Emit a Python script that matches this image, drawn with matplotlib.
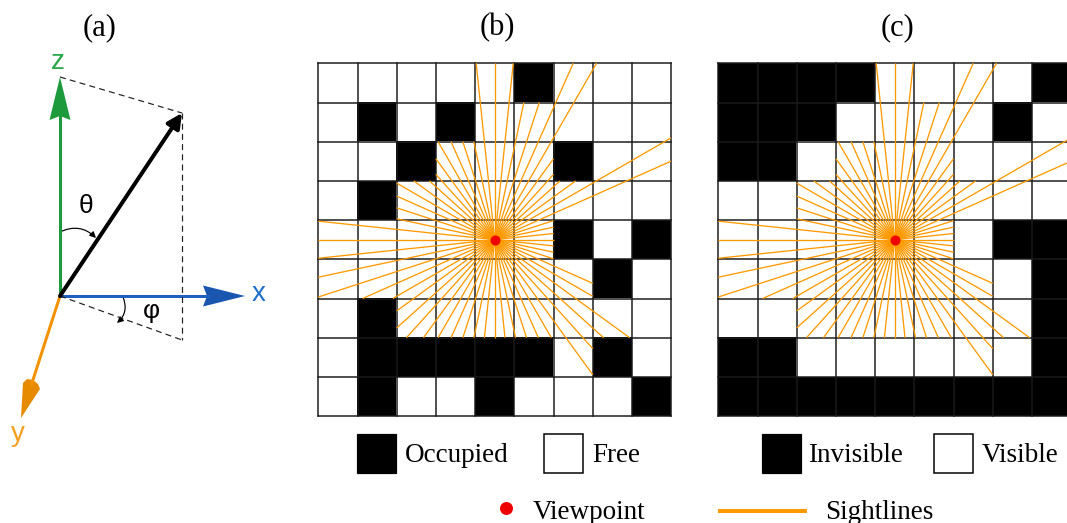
import numpy as np
import matplotlib
matplotlib.use("Agg")
import matplotlib.pyplot as plt
from matplotlib.colors import ListedColormap
from matplotlib.patches import Rectangle, Polygon, FancyArrowPatch

# ---------------- data ----------------
# (b) occupancy grid, rows top->bottom, 1 = occupied
occupancy = [
    [0, 0, 0, 0, 0, 1, 0, 0, 0],
    [0, 1, 0, 1, 0, 0, 0, 0, 0],
    [0, 0, 1, 0, 0, 0, 1, 0, 0],
    [0, 1, 0, 0, 0, 0, 0, 0, 0],
    [0, 0, 0, 0, 0, 0, 1, 0, 1],
    [0, 0, 0, 0, 0, 0, 0, 1, 0],
    [0, 1, 0, 0, 0, 0, 0, 0, 0],
    [0, 1, 1, 1, 1, 1, 0, 1, 0],
    [0, 1, 0, 0, 1, 0, 0, 0, 1],
]
# (c) visibility grid, rows top->bottom, 1 = invisible
invisibility = [
    [1, 1, 1, 1, 0, 0, 0, 0, 1],
    [1, 1, 1, 0, 0, 0, 0, 1, 0],
    [1, 1, 0, 0, 0, 0, 0, 0, 0],
    [0, 0, 0, 0, 0, 0, 0, 0, 0],
    [0, 0, 0, 0, 0, 0, 0, 1, 1],
    [0, 0, 0, 0, 0, 0, 0, 0, 1],
    [0, 0, 0, 0, 0, 0, 0, 0, 1],
    [1, 1, 0, 0, 0, 0, 0, 0, 1],
    [1, 1, 1, 1, 1, 1, 1, 1, 1],
]
viewpoint_cell = (4, 4)  # (column, row)
sightline_angles_deg = [0, 6, 12, 18, 24, 30, 36, 42, 48, 54, 60, 66, 72, 78, 84,
                        90, 96, 102, 108, 114, 120, 126, 132, 138, 144, 150, 156,
                        162, 168, 174, 180, 186, 192, 198, 204, 210, 216, 222, 228,
                        234, 240, 246, 252, 258, 264, 270, 276, 282, 288, 294, 300,
                        306, 312, 318, 324, 330, 336, 342, 348, 354]

panel_labels = ["(a)", "(b)", "(c)"]
legend_b = ["Occupied", "Free"]
legend_c = ["Invisible", "Visible"]
legend_bottom = ["Viewpoint", "Sightlines"]
axis_labels = ["x", "y", "z"]
angle_labels = ["\u03b8", "\u03c6"]

# ---------------- style ----------------
W, H = 1067, 523
PX = 0.72  # points per pixel at dpi 100
ORANGE = "#ff9900"
GREEN = "#1c9a3c"
BLUE = "#1f5fbf"
YORANGE = "#f39200"
SERIF = "Liberation Serif"
SANS = "Liberation Sans"

fig = plt.figure(figsize=(W / 100, H / 100), dpi=100)
ov = fig.add_axes([0, 0, 1, 1])
ov.set_xlim(0, W)
ov.set_ylim(H, 0)
ov.axis("off")


def cast_ray(grid, start, ang):
    n_rows, n_cols = grid.shape
    x0, y0 = start
    dx, dy = np.cos(np.radians(ang)), -np.sin(np.radians(ang))
    dx = 0.0 if abs(dx) < 1e-12 else dx
    dy = 0.0 if abs(dy) < 1e-12 else dy
    cx, cy = int(np.floor(x0)), int(np.floor(y0))
    sx = 1 if dx > 0 else -1
    sy = 1 if dy > 0 else -1
    tx = ((cx + (1 if dx > 0 else 0)) - x0) / dx if dx != 0 else np.inf
    ty = ((cy + (1 if dy > 0 else 0)) - y0) / dy if dy != 0 else np.inf
    dtx = abs(1 / dx) if dx != 0 else np.inf
    dty = abs(1 / dy) if dy != 0 else np.inf
    while True:
        if tx < ty:
            t = tx
            cx += sx
            tx += dtx
        else:
            t = ty
            cy += sy
            ty += dty
        if not (0 <= cx < n_cols and 0 <= cy < n_rows) or grid[cy, cx]:
            return x0 + t * dx, y0 + t * dy


occ = np.array(occupancy)
inv = np.array(invisibility)
vx, vy = viewpoint_cell[0] + 0.5, viewpoint_cell[1] + 0.5


def grid_panel(left_px, top_px, size_px, grid):
    ax = fig.add_axes([left_px / W, (H - top_px - size_px) / H, size_px / W, size_px / H])
    n_rows, n_cols = grid.shape
    ax.imshow(grid, cmap=ListedColormap(["white", "black"]), vmin=0, vmax=1,
              extent=(0, n_cols, n_rows, 0), interpolation="nearest", aspect="auto", zorder=0)
    for k in range(n_cols + 1):
        ax.plot([k, k], [0, n_rows], color="#1a1a1a", lw=1.5 * PX, zorder=1, clip_on=False)
    for k in range(n_rows + 1):
        ax.plot([0, n_cols], [k, k], color="#1a1a1a", lw=1.5 * PX, zorder=1, clip_on=False)
    for ang in sightline_angles_deg:
        ex, ey = cast_ray(occ, (vx, vy), ang)
        ax.plot([vx, ex], [vy, ey], color=ORANGE, lw=1.3 * PX, zorder=2, solid_capstyle="butt")
    ax.plot([vx], [vy], "o", color="#ee0000", ms=10 * PX, mec="none", zorder=3)
    ax.set_xlim(0, n_cols)
    ax.set_ylim(n_rows, 0)
    ax.axis("off")
    return ax


cell = 39.2
grid_panel(318.3, 63.3, 9 * cell, occ)
grid_panel(718.3, 63.3, 9 * cell, inv)

# ---------------- panel labels ----------------
for lab, xc in zip(panel_labels, [100, 497, 897]):
    ov.text(xc, 28, lab, fontsize=22, family=SERIF, ha="center", va="center")

# ---------------- panel (a): coordinate frame ----------------
O = (60, 296)
# z axis
ov.plot([O[0], 60], [O[1], 112], color=GREEN, lw=3 * PX, solid_capstyle="butt")
ov.add_patch(Polygon([(60, 77), (49.5, 120), (60, 116), (70.5, 120)], closed=True,
                     fc=GREEN, ec="none"))
# x axis
ov.plot([O[0], 210], [O[1], 296], color=BLUE, lw=3 * PX, solid_capstyle="butt")
ov.add_patch(Polygon([(245, 296), (203, 285.5), (207, 296), (203, 306.5)], closed=True,
                     fc="#1a56b0", ec="none"))
# y axis
ov.plot([O[0], 31], [O[1], 386], color=YORANGE, lw=3 * PX, solid_capstyle="butt")
ov.add_patch(Polygon([(21, 418), (23, 383), (27, 379), (33, 380), (38, 384), (40, 389)],
                     closed=True, fc="#e68a00", ec="none"))
# vector
ov.annotate("", xy=(182, 113), xytext=O,
            arrowprops=dict(arrowstyle="-|>", lw=4 * PX, color="black",
                            mutation_scale=22, shrinkA=0, shrinkB=0))
# dashed projection lines
dash_kw = dict(color="#222222", lw=1.2 * PX, dashes=(5, 3.5))
ov.plot([60, 182], [77, 113], **dash_kw)
ov.plot([182, 182], [113, 340], **dash_kw)
ov.plot([O[0], 182], [O[1], 340], **dash_kw)
# angle arcs
ov.add_patch(FancyArrowPatch((60, 232), (96, 238), connectionstyle="arc3,rad=-0.35",
                             arrowstyle="-|>", mutation_scale=9, lw=1.2 * PX,
                             color="black", shrinkA=0, shrinkB=0))
ov.add_patch(FancyArrowPatch((123, 297), (117, 323), connectionstyle="arc3,rad=-0.35",
                             arrowstyle="-|>", mutation_scale=9, lw=1.2 * PX,
                             color="black", shrinkA=0, shrinkB=0))
ov.text(86, 206, angle_labels[0], fontsize=19, family=SANS, ha="center", va="center")
ov.text(151, 311, angle_labels[1], fontsize=19, family=SANS, ha="center", va="center")
# axis labels
ov.text(259, 294, axis_labels[0], fontsize=20, family=SANS, color="#1f6fc8", ha="center", va="center")
ov.text(18, 434, axis_labels[1], fontsize=20, family=SANS, color="#f5a020", ha="center", va="center")
ov.text(58, 62, axis_labels[2], fontsize=20, family=SANS, color="#2aa84a", ha="center", va="center")

# ---------------- legend ----------------
leg_fs = 19.5
sq = 39
ov.add_patch(Rectangle((357, 434), sq, sq, fc="black", ec="black", lw=1.2 * PX))
ov.text(405, 462, legend_b[0], fontsize=leg_fs, family=SERIF, va="baseline")
ov.add_patch(Rectangle((543.5, 434), sq, sq, fc="white", ec="black", lw=1.5 * PX))
ov.text(592, 462, legend_b[1], fontsize=leg_fs, family=SERIF, va="baseline")
ov.add_patch(Rectangle((762, 434), sq, sq, fc="black", ec="black", lw=1.2 * PX))
ov.text(808, 462, legend_c[0], fontsize=leg_fs, family=SERIF, va="baseline")
ov.add_patch(Rectangle((933.5, 434), sq, sq, fc="white", ec="black", lw=1.5 * PX))
ov.text(982, 462, legend_c[1], fontsize=leg_fs, family=SERIF, va="baseline")

ov.plot([506], [508], "o", color="#ee0000", ms=13 * PX, mec="none")
ov.text(533, 519, legend_bottom[0], fontsize=leg_fs, family=SERIF, va="baseline")
ov.plot([718, 807], [511, 511], color=ORANGE, lw=4 * PX, solid_capstyle="butt")
ov.text(825, 519, legend_bottom[1], fontsize=leg_fs, family=SERIF, va="baseline")

fig.savefig("out.png", dpi=100)
